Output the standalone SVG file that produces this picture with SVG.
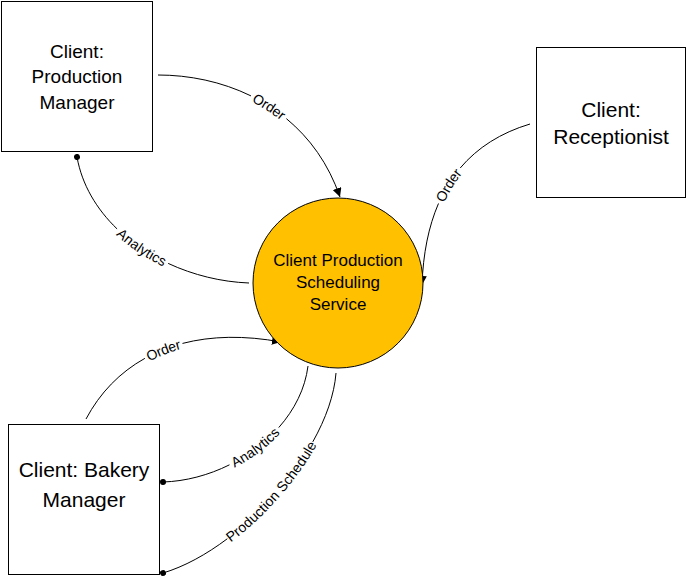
<svg xmlns="http://www.w3.org/2000/svg" xmlns:xlink="http://www.w3.org/1999/xlink" width="688" height="577" viewBox="0 0 688 577">
<style>
.box{fill:#fff;stroke:#000;stroke-width:1}
.svc{fill:#FFC000;stroke:#000;stroke-width:1}
.nt{font-family:"Liberation Sans",Arial,sans-serif;fill:#000;text-anchor:middle}
.conn{fill:none;stroke:#000;stroke-width:1}
.lbl{font-family:"Liberation Sans",Arial,sans-serif;font-size:14px;fill:#000;text-anchor:middle}
</style>
<defs>
<marker id="arrow" viewBox="0 0 10 10" refX="10" refY="5" markerWidth="9" markerHeight="9" markerUnits="userSpaceOnUse" orient="auto-start-reverse">
<path d="M0,0 L10,5 L0,10 z" fill="#000"/>
</marker>
<marker id="dot" viewBox="0 0 10 10" refX="5" refY="5" markerWidth="6" markerHeight="6" markerUnits="userSpaceOnUse" orient="auto">
<circle cx="5" cy="5" r="5" fill="#000"/>
</marker>
</defs>
<g id="connectors">
<path id="c1" class="conn" pathLength="100" stroke-dasharray="41 18 41" d="M158,75 C230,75 310,110 340,197" marker-end="url(#arrow)"/>
<path id="c2" class="conn" pathLength="100" stroke-dasharray="36.5 27 36.5" d="M77,157 C90,230 170,280 249,283" marker-start="url(#dot)"/>
<path id="c3" class="conn" pathLength="100" stroke-dasharray="40 20 40" d="M422,285 C425,200 460,145 530,124" marker-start="url(#arrow)"/>
<path id="c4" class="conn" pathLength="100" stroke-dasharray="38 18 44" d="M86,419 C120,355 190,325 281,342" marker-end="url(#arrow)"/>
<path id="c5" class="conn" pathLength="100" stroke-dasharray="34.5 31 34.5" d="M163,482 C230,480 300,430 308,366" marker-start="url(#dot)"/>
<path id="c6" class="conn" pathLength="100" stroke-dasharray="26.5 47 26.5" d="M163,573 C240,550 330,450 336,373" marker-start="url(#dot)"/>
<text class="lbl" dy="5"><textPath href="#c1" xlink:href="#c1" startOffset="50%">Order</textPath></text>
<text class="lbl" dy="5"><textPath href="#c2" xlink:href="#c2" startOffset="50%">Analytics</textPath></text>
<text class="lbl" dy="5"><textPath href="#c3" xlink:href="#c3" startOffset="50%">Order</textPath></text>
<text class="lbl" dy="5"><textPath href="#c4" xlink:href="#c4" startOffset="47%">Order</textPath></text>
<text class="lbl" dy="5"><textPath href="#c5" xlink:href="#c5" startOffset="50%">Analytics</textPath></text>
<text class="lbl" dy="5"><textPath href="#c6" xlink:href="#c6" startOffset="50%">Production Schedule</textPath></text>
</g>
<g id="production-manager">
<rect class="box" x="1.5" y="1.5" width="151" height="150"/>
<text class="nt" font-size="19" x="77" y="58">Client:</text>
<text class="nt" font-size="19" x="77" y="83">Production</text>
<text class="nt" font-size="19" x="77" y="109">Manager</text>
</g>
<g id="receptionist">
<rect class="box" x="536.5" y="47.5" width="149" height="150"/>
<text class="nt" font-size="21" x="611" y="117">Client:</text>
<text class="nt" font-size="21" x="611" y="144">Receptionist</text>
</g>
<g id="bakery-manager">
<rect class="box" x="8.5" y="424.5" width="151" height="150"/>
<text class="nt" font-size="21" x="84" y="477">Client: Bakery</text>
<text class="nt" font-size="21" x="84" y="507">Manager</text>
</g>
<g id="service">
<circle class="svc" cx="338" cy="283" r="85"/>
<text class="nt" font-size="17" x="338" y="266">Client Production</text>
<text class="nt" font-size="17" x="338" y="288">Scheduling</text>
<text class="nt" font-size="17" x="338" y="310">Service</text>
</g>
</svg>
